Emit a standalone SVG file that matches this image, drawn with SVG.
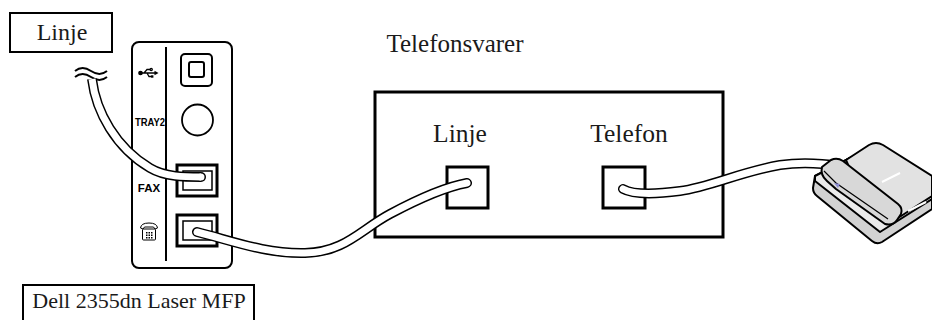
<svg xmlns="http://www.w3.org/2000/svg" width="932" height="320" viewBox="0 0 932 320">
  <style>
    .label { font-family: "Liberation Serif", "Times New Roman", serif; fill: #1a1a1a; }
    .panel-text { font-family: "Liberation Sans", Arial, sans-serif; font-weight: bold; fill: #000; }
    .box { fill: #fff; stroke: #000; stroke-width: 2; }
    .thick { fill: #fff; stroke: #000; stroke-width: 3; }
    .line { fill: none; stroke: #000; stroke-width: 2; stroke-linejoin: round; }
    .cable-out { fill: none; stroke: #000; stroke-width: 10; }
    .cable-in { fill: none; stroke: #fff; stroke-width: 7; }
    .phone { stroke: #000; stroke-width: 2; stroke-linejoin: round; }
  </style>

  <rect width="932" height="320" fill="#fff"/>

  <!-- wall line label -->
  <g id="wall-line">
    <rect class="box" x="10" y="13" width="102" height="39"/>
    <text class="label" x="62" y="40" font-size="24" text-anchor="middle">Linje</text>
    <path class="line" stroke-width="1.5" d="M75,71 C80,67 85,67 91,71 C97,75 102,75 107,71"/>
    <path class="line" stroke-width="1.5" d="M75,77 C80,73 85,73 91,77 C97,81 102,81 107,77"/>
  </g>

  <!-- printer rear panel -->
  <g id="mfp">
    <rect class="box" x="132" y="42" width="100" height="226" rx="7"/>
    <line class="line" x1="166" y1="47" x2="166" y2="261"/>
    <!-- USB -->
    <g fill="#000" stroke="#000" stroke-width="1.3">
      <path fill="none" d="M141,73 H155 M144,73 L147,69.5 H150 M147,73 L149,76.5 H151"/>
      <circle cx="140.5" cy="73" r="1.7"/>
      <polygon points="158.5,73 154.5,70.8 154.5,75.2" stroke="none"/>
      <circle cx="151.2" cy="69.5" r="1.1" fill="none"/>
      <rect x="151" y="75.3" width="2.4" height="2.4" stroke="none"/>
    </g>
    <rect class="box" x="181" y="54" width="31" height="32" rx="4"/>
    <rect class="box" x="189" y="62" width="15" height="15" rx="2"/>
    <text class="panel-text" x="150" y="126" font-size="11" text-anchor="middle" textLength="30" lengthAdjust="spacingAndGlyphs">TRAY2</text>
    <circle cx="197.5" cy="120" r="15.5" fill="#fff" stroke="#000" stroke-width="1.8"/>
    <text class="panel-text" x="149" y="192" font-size="11.5" text-anchor="middle">FAX</text>
    <rect class="thick" x="177" y="165" width="40" height="31"/>
    <rect fill="#fff" stroke="#000" stroke-width="1.5" x="183" y="171" width="29" height="19"/>
    <!-- telephone icon -->
    <g stroke="#000" stroke-width="1" fill="#fff">
      <path d="M140.5,228 Q141,223 149,223 Q157,223 157.5,228 L155,229 L153.5,227 H144.5 L143,229 Z"/>
      <rect x="142.5" y="229" width="13" height="11" rx="1"/>
      <g fill="#000" stroke="none">
        <rect x="146" y="232" width="1.5" height="1.5"/><rect x="148.5" y="232" width="1.5" height="1.5"/><rect x="151" y="232" width="1.5" height="1.5"/>
        <rect x="146" y="234.5" width="1.5" height="1.5"/><rect x="148.5" y="234.5" width="1.5" height="1.5"/><rect x="151" y="234.5" width="1.5" height="1.5"/>
        <rect x="146" y="237" width="1.5" height="1.5"/><rect x="148.5" y="237" width="1.5" height="1.5"/><rect x="151" y="237" width="1.5" height="1.5"/>
      </g>
    </g>
    <rect class="thick" x="177" y="215" width="40" height="31"/>
    <rect fill="#fff" stroke="#000" stroke-width="1.5" x="183" y="221" width="29" height="19"/>
  </g>

  <g id="mfp-label">
    <rect class="box" x="23" y="285" width="231" height="40"/>
    <text class="label" x="139" y="308" font-size="22" text-anchor="middle">Dell 2355dn Laser MFP</text>
  </g>

  <!-- answering machine -->
  <g id="answering-machine">
    <text class="label" x="455" y="52" font-size="25" text-anchor="middle">Telefonsvarer</text>
    <rect class="thick" x="375" y="92" width="348" height="145"/>
    <text class="label" x="460" y="142" font-size="25.5" text-anchor="middle">Linje</text>
    <text class="label" x="629" y="142" font-size="25.5" text-anchor="middle">Telefon</text>
    <rect class="thick" x="447" y="167" width="41" height="41"/>
    <rect class="thick" x="603" y="167" width="42" height="41"/>
  </g>

  <!-- cords -->
  <g id="connectors">
    <g id="cord-wall-fax">
      <path class="cable-out" d="M92,79 C96,112 116,148 150,168 C165,177 185,177 201,177"/>
      <circle cx="201" cy="177" r="5"/>
      <path class="cable-in" d="M92,79 C96,112 116,148 150,168 C165,177 185,177 201,177"/>
      <circle cx="201" cy="177" r="3.5" fill="#fff"/>
    </g>
    <g id="cord-ext-line">
      <path class="cable-out" stroke-linecap="round" d="M197,232 C230,240 265,254 305,253 C345,252 360,230 390,214 C420,198 445,187 467,183"/>
      <path class="cable-in" stroke-linecap="round" d="M197,232 C230,240 265,254 305,253 C345,252 360,230 390,214 C420,198 445,187 467,183"/>
    </g>
    <g id="cord-phone">
      <path class="cable-out" stroke-width="9" stroke-linecap="round" d="M623,189 C632,194 650,195 680,191 C710,187 740,172 780,165 C800,162 820,163 840,166"/>
      <path class="cable-in" stroke-width="6" stroke-linecap="round" d="M623,189 C632,194 650,195 680,191 C710,187 740,172 780,165 C800,162 820,163 840,166"/>
    </g>
  </g>

  <!-- telephone -->
  <g id="telephone">
    <path class="phone" fill="#d2d2d2" d="M815,176 L852,157 L932,196 L932,209 L882,242 Q877,245 872,241 L817,196 Q813,193 813,188 Z"/>
    <path class="phone" fill="#ebebeb" d="M815,176 L852,157 L932,196 L932,199 L880,232 L815,181 Z"/>
    <path class="phone" fill="#e2e2e2" d="M846,160 L869,145 Q876,141 883,145 L932,176 L932,196 L898,218 L858,188 Z"/>
    <path fill="none" stroke="#fff" stroke-width="2" d="M882,182 L900,173"/>
    <path fill="none" stroke="#fff" stroke-width="2" d="M908,211 L926,202"/>
    <path class="phone" fill="#d8d8d8" d="M822,167 L831,160 Q837,157 843,161 L898,204 Q903,208 901,214 L897,220 Q893,226 885,224 L836,189 L827,181 Q820,175 822,167 Z"/>
    <path fill="none" stroke="#000" stroke-width="1.2" d="M824,171 L836,183 L888,219"/>
    <path fill="#8a8ad0" d="M834,183 L840,184 L838,188 Z"/>
  </g>
</svg>
